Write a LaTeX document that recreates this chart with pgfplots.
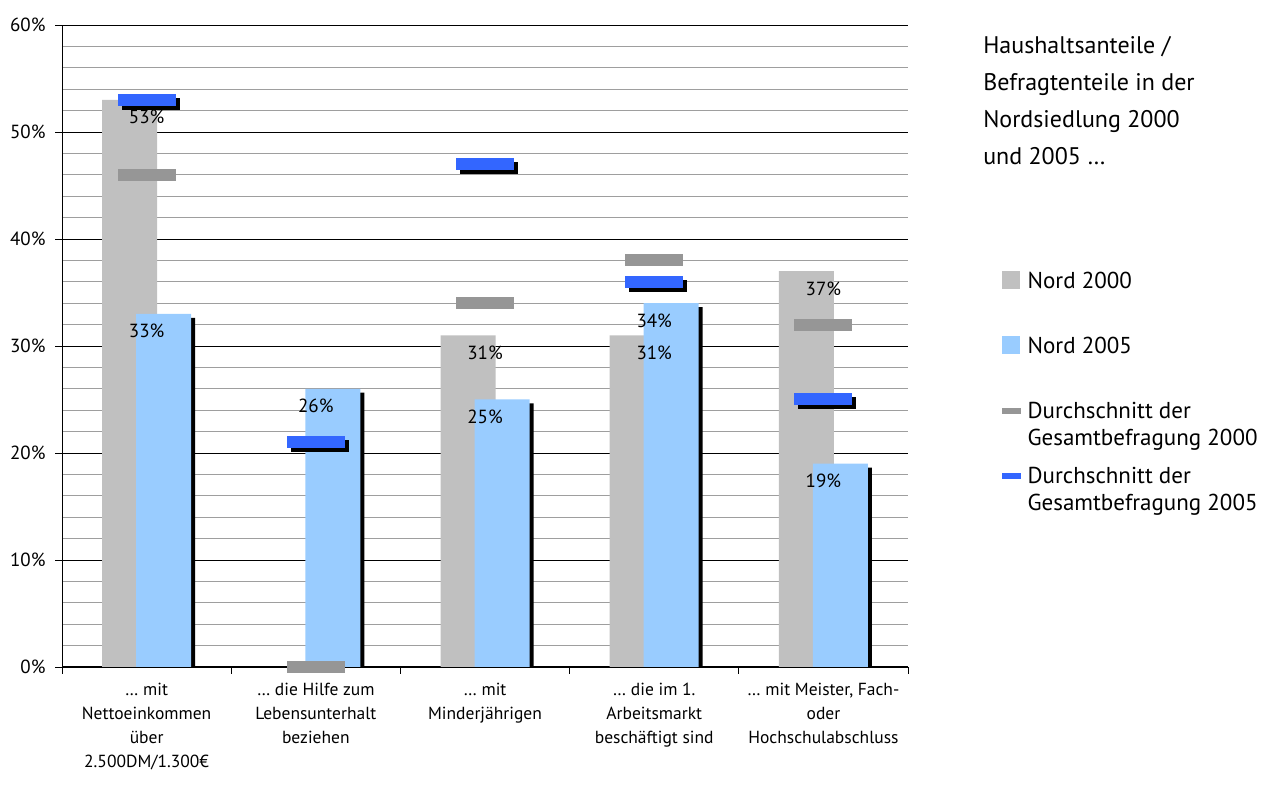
\documentclass[border=0pt]{standalone}
\usepackage{pgfplots}
\pgfplotsset{compat=1.18}
\usepackage{fontspec}
\setmainfont{PT Sans}

\definecolor{nord00}{HTML}{C0C0C0}
\definecolor{nord05}{HTML}{99CCFF}
\definecolor{avg00}{HTML}{969696}
\definecolor{avg05}{HTML}{3366FF}

% horizontal bar used for the averages, and its offset shadow
\pgfdeclareplotmark{avgbar}{\pgfpathrectangle{\pgfpoint{-29pt}{-6pt}}{\pgfpoint{58pt}{12pt}}\pgfusepathqfill}
\pgfdeclareplotmark{avgshadow}{\pgfpathrectangle{\pgfpoint{-25pt}{-10pt}}{\pgfpoint{58pt}{12pt}}\pgfusepathqfill}

\newcommand{\lab}{\fontsize{17.5}{24}\selectfont}
\newcommand{\num}{\fontsize{19}{24}\selectfont}

\begin{document}
\begin{tikzpicture}
\begin{axis}[
  scale only axis, width=846pt, height=642pt,
  xmin=-0.5, xmax=4.5, ymin=0, ymax=60,
  clip=false,
  axis lines=left,
  axis line style={-, black, line width=1pt},
  tick align=outside,
  major tick length=7pt, minor tick length=0pt,
  tick style={black, line width=0.8pt},
  xtick={-0.5,0.5,...,4.5}, xticklabels={},
  extra x ticks={0,1,2,3,4},
  extra x tick labels={
    {… mit\\Nettoeinkommen\\über\\2.500DM/1.300€},
    {… die Hilfe zum\\Lebensunterhalt\\beziehen},
    {… mit\\Minderjährigen},
    {… die im 1.\\Arbeitsmarkt\\beschäftigt sind},
    {… mit Meister, Fach-\\oder\\Hochschulabschluss}},
  extra x tick style={major tick length=0pt, grid=none},
  x tick label style={align=center, font=\lab, yshift=-13pt},
  ytick={0,10,...,60},
  yticklabels={0\%,10\%,20\%,30\%,40\%,50\%,60\%},
  y tick label style={font=\num, xshift=-6pt},
  minor ytick={2,4,...,58},
  ymajorgrids, yminorgrids,
  major grid style={black, line width=0.8pt},
  minor grid style={color=black!38, line width=0.8pt},
  legend style={at={(rel axis cs:1.1111,0.6200)}, anchor=north west,
    draw=none, fill=none, inner sep=0pt, row sep=11pt, column sep=7pt,
    font=\fontsize{23}{27}\selectfont,
    cells={anchor=base west},
    nodes={inner sep=0pt, text depth=}},
]
% bars
\addplot[ybar, forget plot, bar width=55pt, bar shift=-17pt, fill=nord00, draw=none]
  coordinates {(0,53) (2,31) (3,31) (4,37)};
\addplot[ybar, forget plot, bar width=55pt, bar shift=21pt, fill=black, draw=none]
  coordinates {(0,32.63) (1,25.63) (2,24.63) (3,33.63) (4,18.63)};
\addplot[ybar, forget plot, bar width=55pt, bar shift=17pt, fill=nord05, draw=none]
  coordinates {(0,33) (1,26) (2,25) (3,34) (4,19)};

% averages of the whole survey
\addplot[only marks, forget plot, mark=avgbar, color=avg00]
  coordinates {(0,46) (1,0) (2,34) (3,38) (4,32)};
\addplot[only marks, forget plot, mark=avgshadow, color=black]
  coordinates {(0,53) (1,21) (2,47) (3,36) (4,25)};
\addplot[only marks, forget plot, mark=avgbar, color=avg05]
  coordinates {(0,53) (1,21) (2,47) (3,36) (4,25)};

% value labels on top of everything
\addplot[ybar, forget plot, bar width=55pt, bar shift=-17pt, draw=none, fill=none,
  point meta=explicit symbolic, nodes near coords, nodes near coords align={anchor=north},
  every node near coord/.append style={font=\num, yshift=-7pt}]
  coordinates {(0,53)[53\%] (2,31)[31\%] (3,31)[31\%] (4,37)[37\%]};
\addplot[ybar, forget plot, bar width=55pt, bar shift=17pt, draw=none, fill=none,
  point meta=explicit symbolic, nodes near coords, nodes near coords align={anchor=north},
  every node near coord/.append style={font=\num, yshift=-7pt}]
  coordinates {(0,33)[33\%] (1,26)[26\%] (2,25)[25\%] (3,34)[34\%] (4,19)[19\%]};

\addlegendimage{legend image code/.code={\fill[nord00] (0pt,0pt) rectangle (17pt,17pt);}}
\addlegendentry{\begin{tabular}[t]{@{}l@{}}Nord 2000\\ ~\end{tabular}}
\addlegendimage{legend image code/.code={\fill[nord05] (0pt,0pt) rectangle (17pt,17pt);}}
\addlegendentry{\begin{tabular}[t]{@{}l@{}}Nord 2005\\ ~\end{tabular}}
\addlegendimage{legend image code/.code={\fill[avg00] (0pt,5pt) rectangle (18pt,10pt);}}
\addlegendentry{\begin{tabular}[t]{@{}l@{}}Durchschnitt der\\Gesamtbefragung 2000\end{tabular}}
\addlegendimage{legend image code/.code={\fill[avg05] (0pt,5pt) rectangle (18pt,10pt);}}
\addlegendentry{\begin{tabular}[t]{@{}l@{}}Durchschnitt der\\Gesamtbefragung 2005\end{tabular}}

\node[anchor=north west, align=left, inner sep=0pt, font=\fontsize{24}{37}\selectfont]
  at (rel axis cs:1.0887,0.983)
  {Haushaltsanteile /\\Befragtenteile in der\\Nordsiedlung 2000\\und 2005 …};

\path (rel axis cs:-0.0733,-0.1869) rectangle (rel axis cs:1.4184,1.0389);
\end{axis}
\end{tikzpicture}
\end{document}
